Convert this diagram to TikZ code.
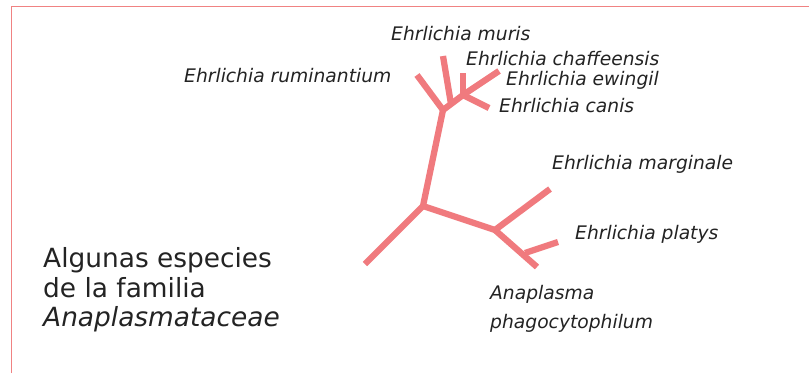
\documentclass[tikz,border=0pt]{standalone}
\usepackage{fontspec}
\setmainfont{DejaVu Sans}
\definecolor{branch}{RGB}{240,122,126}
\definecolor{framec}{RGB}{240,130,130}
\definecolor{txt}{RGB}{35,35,35}
\begin{document}
\begin{tikzpicture}[x=1pt,y=-1pt,
  branchline/.style={draw=branch,line width=6.3pt},
  species/.style={anchor=base west,inner sep=0pt,text=txt,font=\fontsize{18.7}{22}\selectfont\itshape},
  title/.style={anchor=base west,inner sep=0pt,text=txt,font=\fontsize{26.4}{31}\selectfont}]
\useasboundingbox (0,0) rectangle (809,373);
\draw[framec,line width=1.8pt] (11.5,373) -- (11.5,6.5) -- (809,6.5);
% tree points
\coordinate (root) at (423,206);
\coordinate (low) at (365,264);
\coordinate (ehr) at (443,110);
\coordinate (mj) at (451,104);
\coordinate (ij) at (463,95);
\coordinate (rum) at (417,75);
\coordinate (mur) at (443,56);
\coordinate (cha) at (463,73);
\coordinate (ewi) at (499,71);
\coordinate (can) at (489,108);
\coordinate (ana) at (495,230);
\coordinate (mar) at (550,189);
\coordinate (pj) at (525,253);
\coordinate (pla) at (558,242);
\coordinate (pha) at (537,267);
\draw[branchline] (low) -- (root) -- (ehr);
\draw[branchline] (root) -- (ana);
\draw[branchline] (rum) -- (ehr) -- (ij);
\draw[branchline] (mj) -- (mur);
\draw[branchline] (ij) -- (cha);
\draw[branchline] (ij) -- (ewi);
\draw[branchline] (ij) -- (can);
\draw[branchline] (ana) -- (mar);
\draw[branchline] (ana) -- (pha);
\draw[branchline] (pj) -- (pla);
% labels
\node[species] (lmur) at (391,40) {Ehrlichia muris};
\node[species] (lcha) at (466,65) {Ehrlichia chaffeensis};
\node[species] (lewi) at (506,85) {Ehrlichia ewingil};
\node[species] (lcan) at (499,112) {Ehrlichia canis};
\node[species] (lrum) at (184,82.5) {Ehrlichia ruminantium};
\node[species] (lmar) at (552,169) {Ehrlichia marginale};
\node[species] (lpla) at (575,239) {Ehrlichia platys};
\node[species] (lana) at (490,299) {Anaplasma};
\node[species] (lpha) at (490,328) {phagocytophilum};
\node[title] (t1) at (43,267) {Algunas especies};
\node[title] (t2) at (43,297) {de la familia};
\node[title] (t3) at (43,326) {\itshape Anaplasmataceae};
\end{tikzpicture}
\end{document}
